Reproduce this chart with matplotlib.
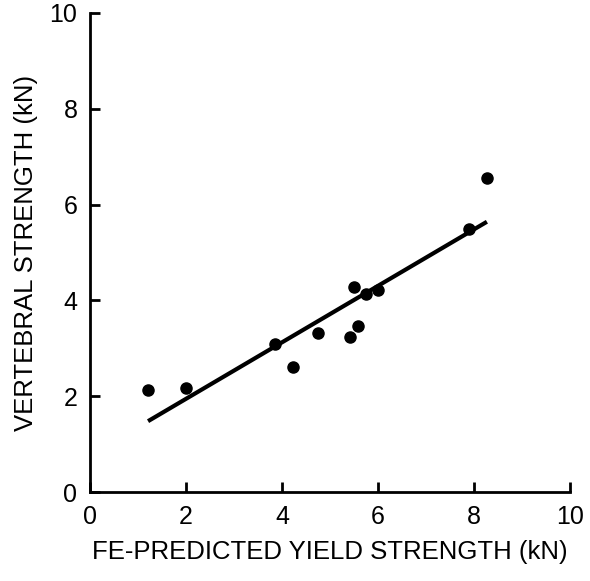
import matplotlib
matplotlib.use("Agg")
from matplotlib import pyplot as plt
import numpy as np

plt.rcParams['font.family'] = ['Liberation Sans', 'DejaVu Sans']

# measured points
fe_pred = [1.21, 2.00, 3.85, 4.23, 4.75, 5.42, 5.50, 5.58, 5.75, 6.00, 7.90, 8.27]
vert_str = [2.13, 2.17, 3.09, 2.61, 3.32, 3.24, 4.28, 3.47, 4.13, 4.22, 5.49, 6.55]

# regression line end points
line_x = [1.21, 8.27]
line_y = [1.48, 5.64]

fig = plt.figure(figsize=(5.9, 5.81), dpi=100)
ax = fig.add_axes([0.1525, 0.153, 0.8135, 0.825])

ax.plot(line_x, line_y, color='black', lw=3, solid_capstyle='butt')
ax.plot(fe_pred, vert_str, 'o', color='black', markersize=8)

ax.set_xlim(0, 10)
ax.set_ylim(0, 10)
ax.set_xticks(np.arange(0, 11, 2))
ax.set_yticks(np.arange(0, 11, 2))
ax.spines['top'].set_visible(False)
ax.spines['right'].set_visible(False)
ax.spines['left'].set_linewidth(2)
ax.spines['bottom'].set_linewidth(2)
ax.tick_params(direction='in', length=7, width=2, labelsize=18, pad=9)

ax.set_xlabel("FE-PREDICTED YIELD STRENGTH (kN)", fontsize=18.5, labelpad=8)
ax.set_ylabel("VERTEBRAL STRENGTH (kN)", fontsize=18.5, labelpad=8)

plt.savefig("out.png", dpi=100)
